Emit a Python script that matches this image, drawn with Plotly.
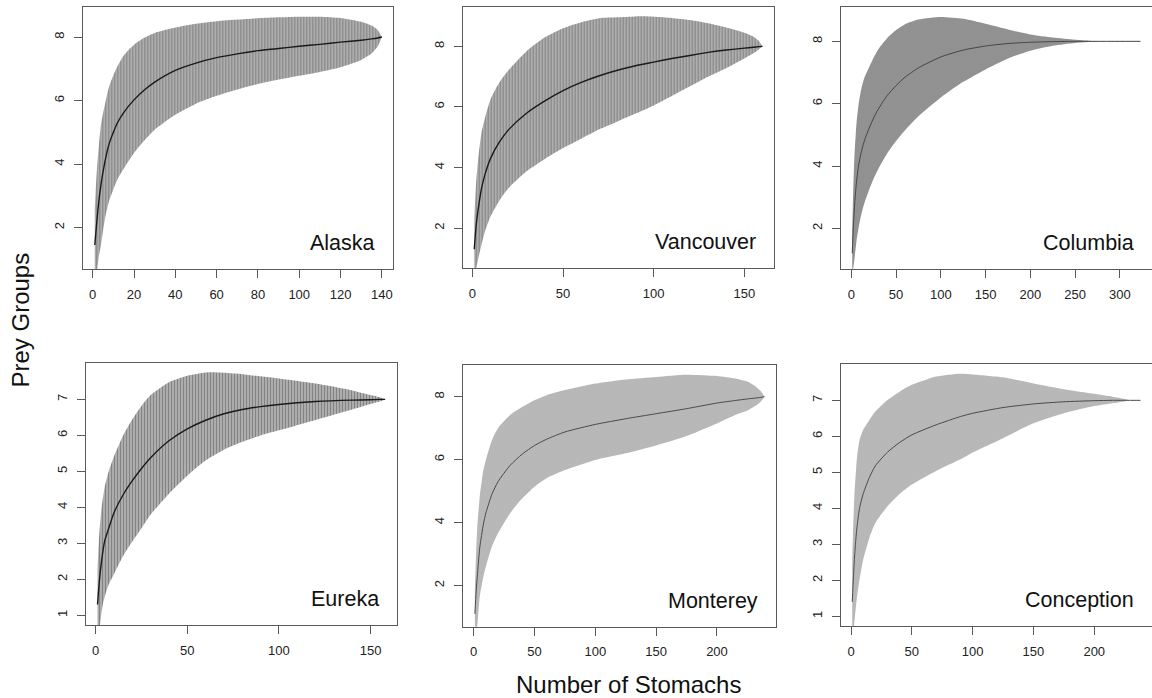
import plotly.graph_objects as go

W, H = 1152, 698
FONT = "Liberation Sans, Arial, Helvetica, sans-serif"

# ---- species accumulation: stomachs sampled vs. prey groups (mean, lower/upper bar ends)
alaska_n = [1, 2, 3, 4, 5, 6, 7, 8, 10, 12, 15, 20, 25, 30, 40, 50, 60, 70, 80, 90, 100, 110, 120, 130, 135, 138, 140]
alaska_mean = [1.45, 2.2, 2.85, 3.35, 3.75, 4.1, 4.4, 4.65, 5.0, 5.3, 5.62, 6.02, 6.33, 6.58, 6.95, 7.18, 7.35, 7.47, 7.57, 7.64, 7.71, 7.77, 7.84, 7.9, 7.94, 7.97, 8.0]
alaska_lo = [0.25, 0.6, 1.1, 1.46, 1.9, 2.3, 2.6, 2.85, 3.2, 3.52, 3.85, 4.35, 4.74, 5.08, 5.55, 5.9, 6.15, 6.35, 6.52, 6.66, 6.78, 6.9, 7.05, 7.28, 7.48, 7.7, 8.0]
alaska_hi = [2.65, 3.8, 4.6, 5.24, 5.6, 5.9, 6.2, 6.45, 6.8, 7.08, 7.42, 7.76, 7.98, 8.13, 8.3, 8.42, 8.5, 8.55, 8.59, 8.62, 8.64, 8.64, 8.6, 8.48, 8.36, 8.22, 8.0]

vancouver_n = [1, 2, 3, 4, 5, 7, 10, 15, 20, 30, 40, 50, 60, 70, 80, 90, 100, 110, 120, 130, 140, 150, 155, 158, 160]
vancouver_mean = [1.3, 2.05, 2.55, 2.95, 3.3, 3.78, 4.3, 4.85, 5.25, 5.8, 6.2, 6.54, 6.81, 7.03, 7.21, 7.36, 7.48, 7.6, 7.7, 7.8, 7.88, 7.94, 7.97, 7.99, 8.0]
vancouver_lo = [0.3, 0.65, 0.93, 1.2, 1.45, 1.9, 2.38, 2.92, 3.32, 3.88, 4.28, 4.64, 4.95, 5.26, 5.52, 5.78, 6.05, 6.36, 6.68, 7.0, 7.28, 7.6, 7.77, 7.9, 8.0]
vancouver_hi = [2.3, 3.45, 4.17, 4.7, 5.15, 5.65, 6.25, 6.82, 7.22, 7.85, 8.3, 8.6, 8.8, 8.93, 8.96, 8.99, 8.98, 8.94, 8.87, 8.76, 8.62, 8.45, 8.32, 8.18, 8.0]

columbia_n = [1, 2, 3, 4, 5, 6, 8, 10, 12, 15, 20, 25, 30, 40, 50, 60, 75, 100, 125, 150, 175, 200, 225, 250, 265, 280, 323]
columbia_mean = [1.2, 1.9, 2.45, 2.9, 3.25, 3.55, 4.0, 4.3, 4.55, 4.85, 5.22, 5.55, 5.82, 6.26, 6.58, 6.85, 7.15, 7.5, 7.72, 7.85, 7.93, 7.97, 7.99, 8.0, 8.0, 8.0, 8.0]
columbia_lo = [0.4, 0.7, 0.9, 1.15, 1.4, 1.65, 2.0, 2.3, 2.55, 2.85, 3.25, 3.6, 3.9, 4.4, 4.8, 5.15, 5.6, 6.2, 6.7, 7.1, 7.45, 7.7, 7.86, 7.95, 7.98, 8.0, 8.0]
columbia_hi = [1.95, 3.1, 4.0, 4.6, 5.05, 5.45, 5.95, 6.3, 6.58, 6.86, 7.18, 7.48, 7.74, 8.1, 8.36, 8.55, 8.7, 8.78, 8.72, 8.56, 8.38, 8.22, 8.12, 8.05, 8.02, 8.0, 8.0]

eureka_n = [1, 2, 3, 4, 5, 7, 10, 15, 20, 25, 30, 40, 50, 60, 70, 80, 90, 100, 120, 140, 150, 155, 158]
eureka_mean = [1.3, 1.95, 2.42, 2.8, 3.08, 3.4, 3.85, 4.35, 4.74, 5.08, 5.38, 5.85, 6.18, 6.42, 6.6, 6.72, 6.8, 6.86, 6.94, 6.98, 6.99, 7.0, 7.0]
eureka_lo = [0.3, 0.6, 1.0, 1.33, 1.52, 1.84, 2.15, 2.65, 3.05, 3.42, 3.8, 4.38, 4.88, 5.3, 5.6, 5.82, 6.0, 6.14, 6.43, 6.72, 6.87, 6.94, 7.0]
eureka_hi = [2.3, 3.28, 3.88, 4.28, 4.58, 4.98, 5.42, 6.0, 6.45, 6.82, 7.12, 7.48, 7.66, 7.75, 7.74, 7.7, 7.64, 7.58, 7.44, 7.25, 7.12, 7.06, 7.0]

monterey_n = [1, 2, 3, 5, 8, 10, 15, 20, 30, 40, 50, 60, 75, 100, 125, 150, 175, 200, 215, 225, 232, 236, 239]
monterey_mean = [1.1, 1.8, 2.3, 3.2, 3.95, 4.3, 4.9, 5.3, 5.82, 6.18, 6.45, 6.65, 6.88, 7.12, 7.3, 7.46, 7.62, 7.8, 7.88, 7.93, 7.96, 7.98, 8.0]
monterey_lo = [0.2, 0.5, 0.7, 1.65, 2.29, 2.6, 3.24, 3.66, 4.3, 4.77, 5.14, 5.41, 5.67, 5.99, 6.2, 6.45, 6.75, 7.15, 7.42, 7.56, 7.72, 7.84, 8.0]
monterey_hi = [1.9, 3.03, 3.87, 4.83, 5.67, 5.99, 6.62, 7.0, 7.42, 7.68, 7.89, 8.05, 8.21, 8.42, 8.55, 8.63, 8.7, 8.66, 8.58, 8.48, 8.32, 8.18, 8.0]

conception_n = [1, 2, 3, 4, 5, 7, 10, 15, 20, 30, 40, 50, 70, 90, 100, 125, 150, 175, 200, 215, 225, 230, 238]
conception_mean = [1.4, 2.1, 2.7, 3.15, 3.5, 4.0, 4.4, 4.85, 5.18, 5.56, 5.83, 6.04, 6.32, 6.55, 6.64, 6.8, 6.9, 6.96, 6.99, 7.0, 7.0, 7.0, 7.0]
conception_lo = [0.3, 0.6, 0.91, 1.25, 1.56, 2.02, 2.57, 3.17, 3.59, 4.06, 4.4, 4.66, 5.04, 5.36, 5.55, 5.95, 6.36, 6.64, 6.84, 6.92, 6.97, 7.0, 7.0]
conception_hi = [2.6, 3.7, 4.5, 5.0, 5.44, 5.9, 6.18, 6.45, 6.69, 7.01, 7.24, 7.43, 7.66, 7.74, 7.72, 7.64, 7.47, 7.31, 7.18, 7.1, 7.04, 7.0, 7.0]

DARK = dict(fg="#4c4c4c", bg="#bababa", size=3, sol=0.5, line="#1a1a1a", lw=1.4)
MID = dict(fg="#858585", bg="#959595", size=2, sol=0.5, line="#454545", lw=1.0)
LIGHT = dict(fg="#9d9d9d", bg="#c0c0c0", size=2, sol=0.5, line="#4a4a4a", lw=1.0)

panels = [
    dict(label="Alaska", n=alaska_n, mean=alaska_mean, lo=alaska_lo, hi=alaska_hi,
         box=(83.3, 393.3, 7.0, 269.0), xt=[0, 20, 40, 60, 80, 100, 120, 140], yt=[2, 4, 6, 8],
         sty=DARK, right=True),
    dict(label="Vancouver", n=vancouver_n, mean=vancouver_mean, lo=vancouver_lo, hi=vancouver_hi,
         box=(462.7, 774.0, 6.7, 268.0), xt=[0, 50, 100, 150], yt=[2, 4, 6, 8],
         sty=DARK, right=True),
    dict(label="Columbia", n=columbia_n, mean=columbia_mean, lo=columbia_lo, hi=columbia_hi,
         box=(840.7, 1152.0, 7.3, 269.3), xt=[0, 50, 100, 150, 200, 250, 300], yt=[2, 4, 6, 8],
         sty=MID, right=False),
    dict(label="Eureka", n=eureka_n, mean=eureka_mean, lo=eureka_lo, hi=eureka_hi,
         box=(86.0, 396.7, 362.7, 625.0), xt=[0, 50, 100, 150], yt=[1, 2, 3, 4, 5, 6, 7],
         sty=DARK, right=True),
    dict(label="Monterey", n=monterey_n, mean=monterey_mean, lo=monterey_lo, hi=monterey_hi,
         box=(463.3, 776.0, 365.0, 626.7), xt=[0, 50, 100, 150, 200], yt=[2, 4, 6, 8],
         sty=LIGHT, right=True),
    dict(label="Conception", n=conception_n, mean=conception_mean, lo=conception_lo, hi=conception_hi,
         box=(840.7, 1152.0, 364.0, 626.0), xt=[0, 50, 100, 150, 200], yt=[1, 2, 3, 4, 5, 6, 7],
         sty=LIGHT, right=False),
]

fig = go.Figure()
layout = {}
annotations = []
AX = "#5a5a5a"

for k, p in enumerate(panels, start=1):
    key = "" if k == 1 else str(k)
    xa, ya = f"x{key}", f"y{key}"
    n, hi, lo, s = p["n"], p["hi"], p["lo"], p["sty"]

    # band of +/- error bars, filled with vertical hatching
    fig.add_trace(go.Scatter(
        x=n + n[::-1], y=hi + lo[::-1], xaxis=xa, yaxis=ya,
        mode="lines", fill="toself", line=dict(width=0, shape="spline", smoothing=0.6),
        fillcolor=s["bg"],
        fillpattern=dict(shape="|", fgcolor=s["fg"], bgcolor=s["bg"], size=s["size"], solidity=s["sol"]),
        hoverinfo="skip", showlegend=False))
    # accumulation curve
    fig.add_trace(go.Scatter(
        x=n, y=p["mean"], xaxis=xa, yaxis=ya, mode="lines",
        line=dict(color=s["line"], width=s["lw"], shape="spline", smoothing=0.6),
        showlegend=False))

    x0, x1, y0, y1 = p["box"]
    nmin, nmax = min(n), max(n)
    xpad = 0.04 * (nmax - nmin)
    ymin, ymax = 1.0, max(hi)
    ypad = 0.04 * (ymax - ymin)

    layout[f"xaxis{key}"] = dict(
        domain=[x0 / W, min(x1 / W, 1.0)], anchor=ya, range=[nmin - xpad, nmax + xpad],
        tickvals=p["xt"], showgrid=False, zeroline=False,
        showline=True, mirror=True, linecolor=AX, linewidth=1,
        ticks="outside", ticklen=8, tickwidth=1, tickcolor=AX, ticklabelstandoff=5,
        tickfont=dict(family=FONT, size=13, color="#222"))
    layout[f"yaxis{key}"] = dict(
        domain=[1 - y1 / H, 1 - y0 / H], anchor=xa, range=[ymin - ypad, ymax + ypad],
        tickvals=p["yt"], showgrid=False, zeroline=False,
        showline=True, mirror=p["right"], linecolor=AX, linewidth=1,
        ticks="outside", ticklen=8, tickwidth=1, tickcolor=AX, tickangle=-90, ticklabelstandoff=5,
        tickfont=dict(family=FONT, size=13, color="#222"))

    annotations.append(dict(
        text=p["label"], xref=f"{xa} domain", yref=f"{ya} domain", x=1, y=0,
        xanchor="right", yanchor="bottom", xshift=-16, yshift=12, showarrow=False,
        font=dict(family=FONT, size=21.5, color="#111")))

annotations.append(dict(
    text="Number of Stomachs", xref="paper", yref="paper", x=628.5 / W, y=1 - 684.5 / H,
    xanchor="center", yanchor="middle", showarrow=False,
    font=dict(family=FONT, size=24, color="#111")))
annotations.append(dict(
    text="Prey Groups", xref="paper", yref="paper", x=20 / W, y=1 - 320.5 / H,
    xanchor="center", yanchor="middle", textangle=-90, showarrow=False,
    font=dict(family=FONT, size=24, color="#111")))

fig.update_layout(
    width=W, height=H, margin=dict(l=0, r=0, t=0, b=0),
    paper_bgcolor="white", plot_bgcolor="white",
    annotations=annotations, **layout)

fig.write_html("out.html")
